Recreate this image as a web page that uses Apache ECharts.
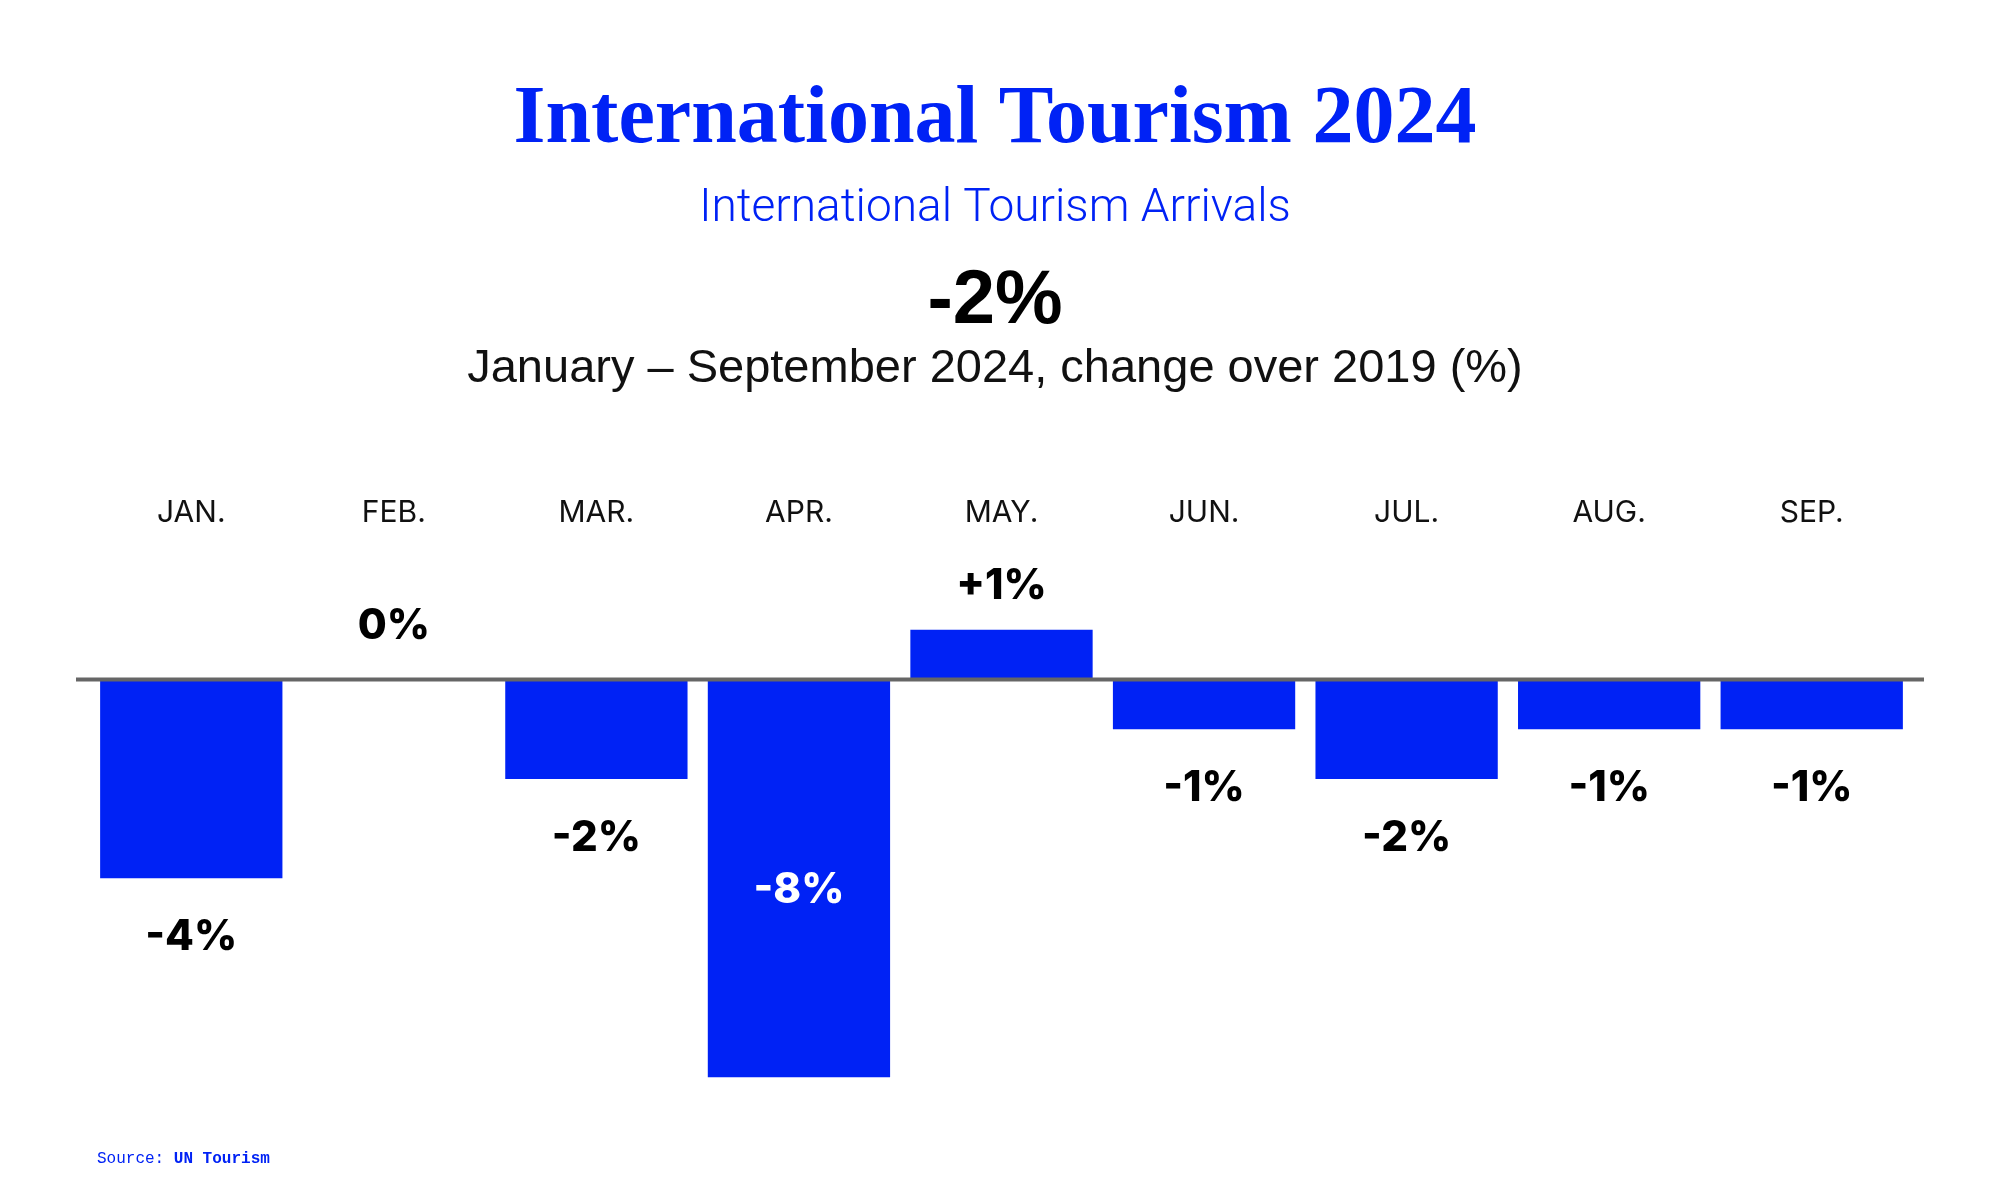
<!DOCTYPE html>
<html>
<head>
<meta charset="utf-8">
<script src="https://cdn.jsdelivr.net/npm/echarts@6/dist/echarts.min.js"></script>
<style>
html,body{margin:0;padding:0;background:#fff;}
#c{width:2001px;height:1201px;}
</style>
</head>
<body>
<div id="c"></div>
<script>
const categories = ['JAN.', 'FEB.', 'MAR.', 'APR.', 'MAY.', 'JUN.', 'JUL.', 'AUG.', 'SEP.'];
const values = [-4, 0, -2, -8, 1, -1, -2, -1, -1];
const headline = '-2%';
const titleText = 'International Tourism 2024';
const subtitleText = 'International Tourism Arrivals';
const periodText = 'January \u2013 September 2024, change over 2019 (%)';
const sourceLabel = 'Source: ';
const sourceName = 'UN Tourism';

const BLUE = '#0022f5';
const fmt = v => (v > 0 ? '+' + v : String(v)) + '%';

const seriesData = values.map(v => {
  let label;
  if (v <= -6) {
    label = { position: 'inside', color: '#fff', offset: [0, 12] };
  } else if (v < 0) {
    label = { position: 'bottom', distance: 38, color: '#000' };
  } else if (v === 0) {
    label = { position: 'top', distance: 32, color: '#000' };
  } else {
    label = { position: 'top', distance: 22, color: '#000' };
  }
  return { value: v, label: label };
});

const chart = echarts.init(document.getElementById('c'), null, { renderer: 'canvas' });
const option = {
  backgroundColor: '#fff',
  animation: false,
  grid: { left: 90, right: 88, top: 580, bottom: 74 },
  xAxis: {
    type: 'category',
    data: categories,
    position: 'top',
    axisLine: { show: false, onZero: false },
    axisTick: { show: false },
    splitLine: { show: false },
    axisLabel: { margin: 52, fontFamily: 'Inter', fontSize: 30, color: '#111' }
  },
  yAxis: { type: 'value', min: -9, max: 2, show: false },
  series: [{
    type: 'bar',
    data: seriesData,
    barWidth: '90%',
    itemStyle: { color: BLUE },
    label: {
      show: true,
      formatter: p => fmt(p.value),
      fontFamily: 'Inter',
      fontWeight: 800,
      fontSize: 42
    }
  }]
};
chart.setOption(option);

const zeroY = chart.convertToPixel({ yAxisIndex: 0 }, 0);
chart.setOption({
  graphic: [
    { type: 'line', z: 100, shape: { x1: 76, y1: zeroY, x2: 1924, y2: zeroY }, style: { stroke: '#666', lineWidth: 4 } },
    { type: 'text', x: 995, y: 121, style: { text: titleText, textAlign: 'center', textVerticalAlign: 'middle', font: 'bold 82px "Liberation Serif"', fill: BLUE } },
    { type: 'text', x: 995, y: 209, style: { text: subtitleText, textAlign: 'center', textVerticalAlign: 'middle', font: '300 46px Roboto', fill: BLUE } },
    { type: 'text', x: 995, y: 302, style: { text: headline, textAlign: 'center', textVerticalAlign: 'middle', font: 'bold 76px "Liberation Sans"', fill: '#000' } },
    { type: 'text', x: 995, y: 369, style: { text: periodText, textAlign: 'center', textVerticalAlign: 'middle', font: '47px "Liberation Sans"', fill: '#111' } },
    { type: 'text', x: 97, y: 1159, style: {
      text: '{a|' + sourceLabel + '}{b|' + sourceName + '}',
      textVerticalAlign: 'middle',
      fill: BLUE,
      rich: {
        a: { fontFamily: 'Liberation Mono', fontSize: 16, fill: BLUE },
        b: { fontFamily: 'Liberation Mono', fontSize: 16, fontWeight: 'bold', fill: BLUE }
      }
    } }
  ]
});
</script>
</body>
</html>
